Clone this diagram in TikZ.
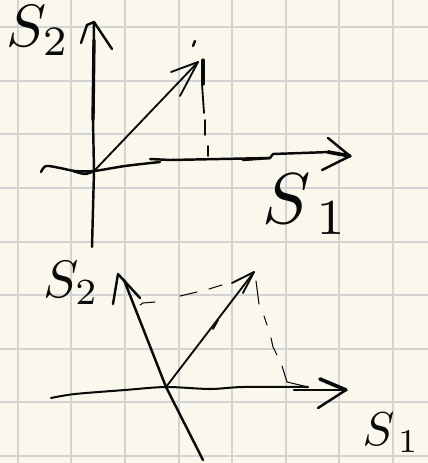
\documentclass[tikz,border=0pt]{standalone}
\usepackage{xcolor}
\usepackage{amsmath}
\usepackage{amssymb}
\definecolor{paper}{HTML}{FAF8EC}
\definecolor{rule}{HTML}{D3D3D3}
\definecolor{pen}{HTML}{0A0A0A}
\tikzset{
  gridline/.style={rule,line width=1.1pt},
  axisline/.style={pen,line width=1.4pt,line cap=round,line join=round},
  vectorline/.style={pen,line width=1.05pt,line cap=round,line join=round},
  dashline/.style={pen,line width=0.6pt,line cap=round},
  axislabel/.style={pen,inner sep=0pt,scale=#1}
}
\begin{document}
\begin{tikzpicture}[x=0.02cm,y=-0.02cm]
\fill[paper] (0,0) rectangle (428,463);
\useasboundingbox (0,0) rectangle (428,463);
\foreach \gx in {18,71,125,179,232,286,339,393}
  \draw[gridline] (\gx,0)--(\gx,463);
\foreach \gy in {27,81,134,188,242,295,349,402,456}
  \draw[gridline] (0,\gy)--(428,\gy);
% upper axes
\coordinate (topO) at (94,171);
\coordinate (topS2) at (94,22);
\coordinate (topS1) at (350,156);
\coordinate (topV) at (198,62);
\draw[axisline] (92,247)--(topO)--(93,120)--(topS2);
\draw[axisline,line width=1.9pt] (93,120)--(94,40);
\draw[axisline] (81,43)--(87,25)--(topS2)--(112,49);
\draw[axisline] plot[smooth] coordinates {(41,172) (46,166) (60,168) (75,171) (topO) (125,166) (160,162)};
\draw[axisline] plot[smooth] coordinates {(73,171) (85,174) (topO)};
\draw[axisline] (150,159)--(170,160)--(270,158);
\draw[axisline] (243,160)--(270,158)--(273,154)--(330,152);
\draw[axisline,line width=2.1pt] (328,152)--(topS1);
\draw[axisline] (328,138)--(topS1)--(322,170);
\draw[vectorline] (topO)--(topV);
\draw[vectorline] (171,72)--(topV)--(180,96);
\draw[axisline] (195,41)--(193,46);
\draw[axisline,line width=1.8pt] (203,60)--(203,84);
\draw[vectorline] (202,84)--(204,113);
\draw[vectorline] (205,120)--(205,135);
\draw[vectorline] (208,146)--(208,156);
\node[axislabel=3.4] (labelTopSTwo) at (38,31) {$S_2$};
\node[axislabel=4.1] (labelTopSOne) at (306,204) {$S_{\,1}$};
% lower axes
\coordinate (lowO) at (166,387);
\coordinate (lowS2) at (124,280);
\coordinate (lowS1) at (346,390);
\coordinate (lowV) at (254,272);
\draw[axisline] (lowS2)--(lowO)--(203,460);
\draw[axisline] (113,304)--(118,274)--(140,298);
\draw[axisline,line width=1.15pt] plot[smooth] coordinates {(51,398) (75,394) (125,390) (lowO) (210,389) (243,387) (308,387)};
\draw[axisline] (294,390)--(lowS1);
\draw[axisline,line width=2.1pt] (320,379)--(lowS1);
\draw[axisline] (lowS1)--(318,408);
\draw[vectorline] (lowO)--(lowV);
\draw[vectorline] (232,283)--(lowV)--(243,293);
\draw[vectorline] (213,329)--(218,320);
\draw[dashline] (140,305)--(143,303)--(155,302);
\draw[dashline] (180,296)--(197,292);
\draw[dashline] (209,289)--(222,285);
\draw[dashline] (256,281)--(259,304);
\draw[dashline] (264,316)--(267,325);
\draw[dashline] (271,338)--(273,347)--(277,355);
\draw[dashline] (282,366)--(287,382)--(308,387);
\node[axislabel=3.0] (labelLowSTwo) at (71,283) {$S_2$};
\node[axislabel=2.7] (labelLowSOne) at (391,433) {$S_{\,1}$};
\end{tikzpicture}
\end{document}
